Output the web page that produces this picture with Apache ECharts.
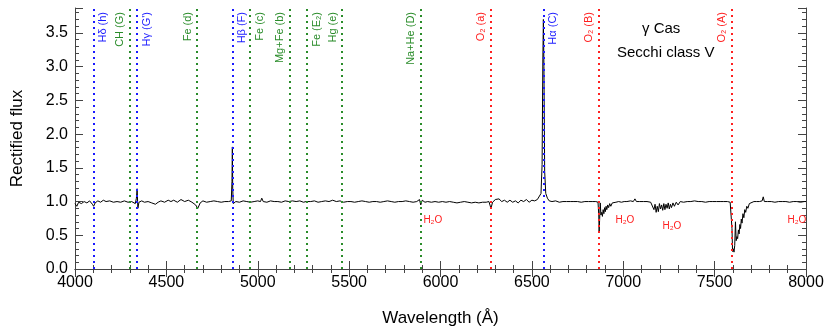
<!DOCTYPE html>
<html>
<head>
<meta charset="utf-8">
<script src="https://cdn.jsdelivr.net/npm/echarts@6/dist/echarts.min.js"></script>
<style>
html,body{margin:0;padding:0;background:#fff}
#main{width:830px;height:332px}
</style>
</head>
<body>
<div id="main"></div>
<script>
// spectrum (wavelength in A, rectified flux)
var wavelength = [
4000,4010,4020,4035,4050,4065,4080,4095,4102,4110,4125,4140,4155,4170,4190,4210,4230,4250,4270,4290,
4310,4330,4336,4340,4344,4350,4365,4380,4400,4420,4440,4455,4470,4490,4510,4525,4540,4560,4580,4600,
4620,4640,4660,4672,4685,4700,4720,4740,4760,4780,4800,4820,4840,4855,4859,4861,4863,4866,4880,4900,
4920,4940,4960,4980,5000,5015,5022,5030,5050,5070,5090,5110,5130,5150,5170,5190,5210,5230,5250,5265,
5275,5290,5310,5330,5350,5370,5390,5410,5430,5450,5470,5490,5510,5530,5550,5570,5590,5610,5630,5650,
5670,5690,5710,5730,5750,5770,5790,5810,5830,5850,5870,5885,5892,5900,5915,5930,5950,5970,5990,6010,
6030,6050,6070,6090,6110,6130,6150,6170,6190,6210,6230,6250,6265,6276,6285,6300,6310,6320,6335,6350,
6365,6380,6395,6410,6425,6440,6455,6470,6485,6500,6515,6530,6540,6550,6556,6560,6563,6566,6570,6576,
6585,6595,6610,6630,6650,6670,6690,6710,6730,6750,6770,6790,6810,6830,6850,6862,6866,6868,6871,6874,
6878,6882,6886,6890,6894,6898,6902,6906,6910,6915,6920,6926,6932,6940,6948,6960,6975,6990,7005,7020,
7040,7055,7064,7072,7090,7110,7130,7150,7160,7168,7174,7180,7186,7192,7198,7204,7210,7216,7222,7228,
7234,7240,7246,7252,7258,7264,7272,7280,7290,7300,7312,7330,7350,7370,7390,7410,7430,7450,7470,7490,
7510,7530,7550,7570,7585,7592,7595,7598,7602,7606,7610,7614,7618,7622,7626,7630,7634,7638,7642,7646,
7650,7655,7660,7665,7670,7676,7682,7690,7700,7715,7730,7745,7760,7766,7772,7790,7810,7830,7850,7870,
7890,7910,7930,7950,7970,7990,8000
];
var flux = [
0.97,0.93,0.99,0.97,1.00,0.98,1.01,0.96,0.93,0.98,1.01,0.99,1.02,1.00,1.01,0.99,1.00,0.99,1.01,0.99,
1.00,0.97,1.05,1.19,0.90,0.99,1.01,0.99,1.00,0.98,0.96,0.99,1.01,0.99,1.02,1.00,1.02,0.99,1.03,1.00,
1.02,0.99,0.95,0.90,0.98,1.01,0.99,1.00,1.01,1.00,0.99,1.00,1.00,1.01,1.30,1.81,1.20,0.97,1.00,0.99,
1.01,1.00,0.99,1.00,1.01,1.00,1.05,1.00,0.99,1.01,1.00,1.00,0.99,1.01,1.00,1.01,1.00,1.01,0.99,1.00,
1.02,1.00,1.01,0.99,1.00,1.01,1.00,1.02,1.00,1.01,0.99,1.00,1.00,0.99,1.00,1.01,1.00,0.99,1.00,1.00,
0.99,1.00,1.01,1.00,0.99,1.00,1.00,1.01,1.00,0.99,1.00,1.03,0.95,1.02,0.99,1.00,0.99,1.00,0.99,1.00,
0.99,1.00,0.99,0.98,0.99,1.00,0.99,0.98,0.99,0.98,0.99,0.99,1.00,0.90,0.99,1.03,1.01,1.04,1.00,1.02,
0.99,1.02,0.99,1.01,0.98,1.02,1.00,1.03,0.99,1.02,1.01,1.03,1.05,1.12,1.55,3.10,3.70,3.00,1.45,1.12,
1.05,1.01,1.00,1.01,0.99,1.00,1.00,1.00,1.00,1.00,0.99,1.00,1.00,1.00,1.00,0.99,0.80,0.55,0.75,0.98,
0.80,0.84,0.78,0.88,0.82,0.91,0.85,0.93,0.88,0.95,0.91,0.97,0.93,0.98,0.96,0.99,1.00,0.99,1.00,1.00,
1.01,1.00,1.04,1.00,1.00,1.00,1.00,0.99,0.98,0.88,0.96,0.84,0.93,0.85,0.97,0.89,0.95,0.87,0.97,0.88,
0.96,0.90,0.98,0.89,0.96,0.91,0.98,0.93,0.99,0.95,1.00,0.99,1.00,1.00,1.01,1.00,1.00,0.99,1.00,1.00,
1.00,1.00,1.00,1.00,0.99,0.98,0.60,0.26,0.30,0.25,0.35,0.70,0.42,0.48,0.45,0.58,0.52,0.66,0.60,0.74,
0.68,0.82,0.76,0.88,0.84,0.93,0.90,0.97,0.99,1.00,1.00,1.00,1.01,1.07,1.00,1.00,1.00,0.99,1.00,1.00,
1.00,0.99,1.00,1.00,0.99,1.00,1.00
];

// identified lines
var lineWl = [4102,4300,4340,4668,4861,4958,5175,5270,5461,5893,6276,6563,6867,7594];
var lineNames = ['Hδ (h)','CH (G)',"Hγ (G')",'Fe (d)','Hβ (F)','Fe (c)','Mg+Fe (b)','Fe (E₂)','Hg (e)','Na+He (D)','O₂ (a)','Hα (C)','O₂ (B)','O₂ (A)'];
var lineColors = ['#1a1aff','#2a8c2a','#1a1aff','#2a8c2a','#1a1aff','#2a8c2a','#2a8c2a','#2a8c2a','#2a8c2a','#2a8c2a','#ff2020','#1a1aff','#ff2020','#ff2020'];
var lineSide = ['R','L','R','L','R','R','L','R','L','L','L','R','L','L'];

// telluric water labels
var waterWl = [5958,7009,7266,7950];
var waterFlux = [0.72,0.72,0.63,0.72];

var chart = echarts.init(document.getElementById('main'));

var specData = wavelength.map(function (w, i) { return [w, flux[i]]; });

var marks = lineWl.map(function (w, i) {
    return {
        xAxis: w,
        lineStyle: {color: lineColors[i]},
        label: {
            formatter: lineNames[i],
            color: lineColors[i],
            position: lineSide[i] == 'L' ? 'insideEndTop' : 'insideEndBottom'
        }
    };
});

var waterMarks = waterWl.map(function (w, i) {
    return {coord: [w, waterFlux[i]]};
});

var font = 'Liberation Sans, Arial, Helvetica, sans-serif';

var axisCommon = {
    type: 'value',
    axisLine: {lineStyle: {color: '#444', width: 1}},
    axisTick: {inside: true, length: 8, lineStyle: {color: '#444'}},
    minorTick: {show: true, length: 4, lineStyle: {color: '#444'}},
    splitLine: {show: false}
};

var option = {
    animation: false,
    textStyle: {fontFamily: font},
    grid: {left: 75, right: 24, top: 8, bottom: 61},
    xAxis: [
        Object.assign({}, axisCommon, {
            min: 4000, max: 8000, interval: 500,
            minorTick: {show: true, splitNumber: 5, length: 4, lineStyle: {color: '#444'}},
            axisLabel: {color: '#000', fontSize: 16, margin: 6, fontFamily: font,
                formatter: function (v) { return String(v); }},
            name: 'Wavelength (Å)', nameLocation: 'middle', nameGap: 41,
            nameTextStyle: {color: '#000', fontSize: 17, fontFamily: font}
        }),
        Object.assign({}, axisCommon, {
            position: 'top', min: 4000, max: 8000, interval: 500,
            minorTick: {show: true, splitNumber: 5, length: 4, lineStyle: {color: '#444'}},
            axisLabel: {show: false}
        })
    ],
    yAxis: [
        Object.assign({}, axisCommon, {
            min: 0, max: 3.87, interval: 0.5,
            minorTick: {show: true, splitNumber: 5, length: 4, lineStyle: {color: '#444'}},
            axisLabel: {color: '#000', fontSize: 16, margin: 7, showMaxLabel: false, fontFamily: font,
                formatter: function (v) { return v.toFixed(1); }},
            name: 'Rectified flux', nameLocation: 'middle', nameGap: 49,
            nameTextStyle: {color: '#000', fontSize: 17, fontFamily: font}
        }),
        Object.assign({}, axisCommon, {
            position: 'right', min: 0, max: 3.87, interval: 0.5,
            minorTick: {show: true, splitNumber: 5, length: 4, lineStyle: {color: '#444'}},
            axisLabel: {show: false}
        })
    ],
    series: [
        {
            type: 'line',
            data: specData,
            showSymbol: false,
            symbol: 'none',
            lineStyle: {color: '#000', width: 1},
            z: 2,
            markPoint: {
                symbol: 'circle', symbolSize: 0,
                label: {show: true, position: 'inside', formatter: 'H₂O', color: '#ff2020', fontSize: 10, fontFamily: font},
                data: waterMarks
            }
        },
        {
            type: 'line',
            data: [],
            z: 3,
            markLine: {
                silent: true,
                symbol: ['none', 'none'],
                lineStyle: {type: [2, 4], width: 2},
                label: {show: true, fontSize: 11, fontFamily: font, distance: 4},
                data: marks
            }
        }
    ],
    graphic: [
        {type: 'text', left: 642, top: 21, style: {text: 'γ Cas', font: '15px ' + font, fill: '#000'}},
        {type: 'text', left: 617, top: 45, style: {text: 'Secchi class V', font: '15px ' + font, fill: '#000'}}
    ]
};

chart.setOption(option);
</script>
</body>
</html>
